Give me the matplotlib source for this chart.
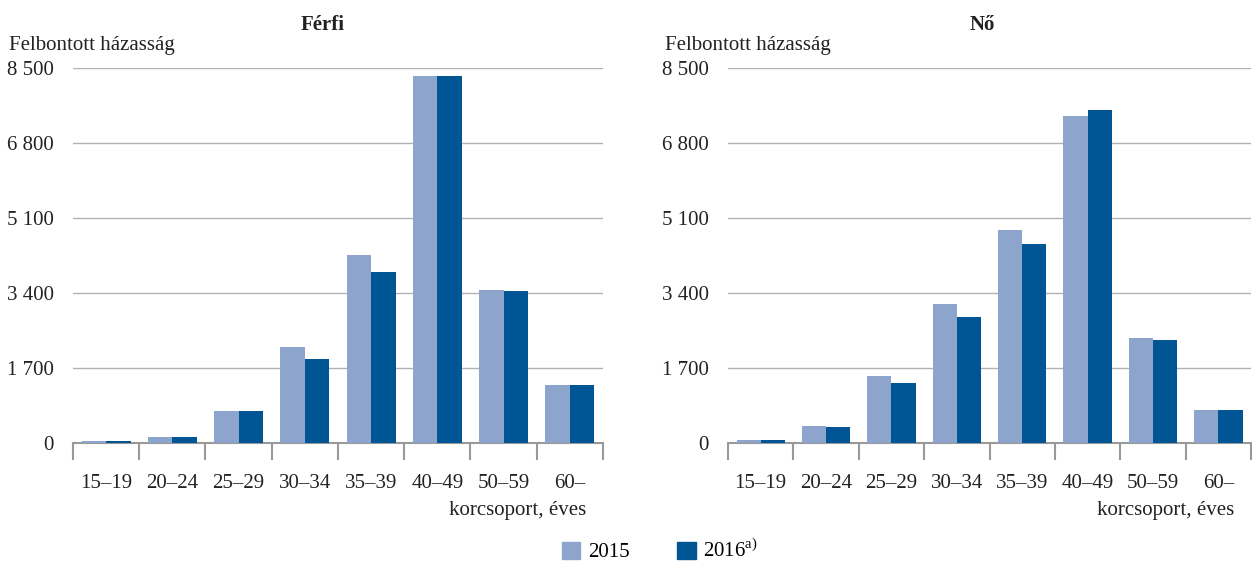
import numpy as np
import matplotlib.pyplot as plt
from matplotlib.patches import Patch

plt.rcParams['font.family'] = ['Liberation Serif', 'DejaVu Serif']
plt.rcParams['mathtext.fontset'] = 'custom'
plt.rcParams['mathtext.rm'] = 'Liberation Serif'

korcsoport = ["15–19", "20–24", "25–29", "30–34", "35–39", "40–49", "50–59", "60–"]
ferfi_2015 = [40, 140, 720, 2180, 4260, 8320, 3470, 1310]
ferfi_2016 = [50, 140, 720, 1900, 3880, 8320, 3450, 1310]
no_2015 = [70, 385, 1520, 3150, 4830, 7410, 2380, 750]
no_2016 = [70, 365, 1360, 2860, 4510, 7550, 2340, 750]
yticks = [0, 1700, 3400, 5100, 6800, 8500]
ytick_labels = ["0", "1 700", "3 400", "5 100", "6 800", "8 500"]

c2015 = "#8DA5CD"
c2016 = "#005595"
grid_c = "#b3b3b3"
txt = "#222222"
fs = 15

fig = plt.figure(figsize=(12.52, 5.61), dpi=100)
ax1 = fig.add_axes([0.0583, 0.2103, 0.4233, 0.6684])
ax2 = fig.add_axes([0.5815, 0.2103, 0.4177, 0.6684])

x = np.arange(len(korcsoport))
w = 0.37

def rajzol(ax, a, b):
    ax.bar(x - w / 2, a, w, color=c2015, zorder=3)
    ax.bar(x + w / 2, b, w, color=c2016, zorder=3)
    ax.set_xlim(-0.5, len(korcsoport) - 0.5)
    ax.set_ylim(0, 8500)
    ax.set_yticks(yticks)
    ax.set_yticklabels(ytick_labels)
    ax.yaxis.grid(True, color=grid_c, linewidth=1, zorder=0)
    for s in ["left", "right", "top"]:
        ax.spines[s].set_visible(False)
    ax.spines["bottom"].set_color("#999999")
    ax.spines["bottom"].set_linewidth(1.5)
    ax.tick_params(axis="y", length=0, pad=14, labelsize=fs, labelcolor=txt)
    # tick marks between categories
    ax.set_xticks(np.arange(len(korcsoport) + 1) - 0.5)
    ax.set_xticklabels([])
    ax.tick_params(axis="x", which="major", length=12, width=1.5, color="#999999", direction="out")
    ax.set_xticks(x, minor=True)
    ax.set_xticklabels(korcsoport, minor=True)
    ax.tick_params(axis="x", which="minor", length=0, pad=22, labelsize=fs, labelcolor=txt)
    ax.text(0.968, -0.155, "korcsoport, éves", transform=ax.transAxes, ha="right", va="top",
            fontsize=fs, color=txt)
    ax.text(-0.12, 1.035, "Felbontott házasság", transform=ax.transAxes, ha="left", va="bottom",
            fontsize=fs, color=txt)

rajzol(ax1, ferfi_2015, ferfi_2016)
rajzol(ax2, no_2015, no_2016)

fig.text(323 / 1252, 1 - 25 / 561, "Férfi", ha="center", va="center", fontsize=fs,
         fontweight="bold", color=txt)
fig.text(982 / 1252, 1 - 25 / 561, "Nő", ha="center", va="center", fontsize=fs,
         fontweight="bold", color=txt)

handles = [Patch(color=c2015), Patch(color=c2016)]
fig.legend(handles, ["2015", "2016$^{\\mathrm{a)}}$"], loc="center", ncol=2,
           bbox_to_anchor=(0.527, 10 / 561), frameon=False, fontsize=fs, handlelength=0.9,
           handleheight=0.9, columnspacing=2.3, handletextpad=0.35, borderpad=0)

fig.savefig("out.png", dpi=100)
